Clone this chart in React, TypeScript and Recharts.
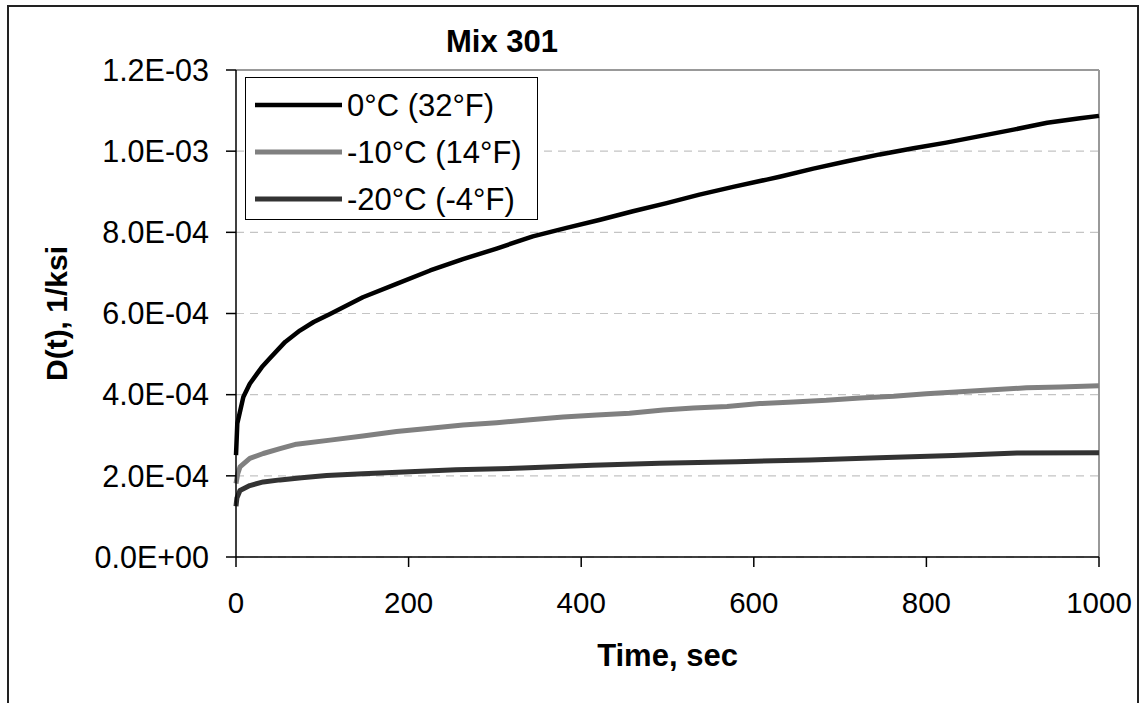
import React from 'react';
import { LineChart, Line, XAxis, YAxis, CartesianGrid, ReferenceLine, Legend, Label } from 'recharts';

const timeTicks = [0, 200, 400, 600, 800, 1000];
const complianceTicks = [0, 2e-4, 4e-4, 6e-4, 8e-4, 10e-4, 12e-4];

// 0°C (32°F)
const time0C = [0, 1.5, 8.5, 16, 30, 39, 57, 74, 90, 109, 147, 186, 225, 263, 302, 344, 383, 422, 460, 499, 537, 576, 615, 630, 669, 708, 746, 785, 823, 862, 901, 940, 978, 1000];
const d0C = [2.51e-4, 3.29e-4, 3.94e-4, 4.27e-4, 4.68e-4, 4.89e-4, 5.30e-4, 5.58e-4, 5.79e-4, 5.99e-4, 6.40e-4, 6.73e-4, 7.06e-4, 7.34e-4, 7.60e-4, 7.90e-4, 8.11e-4, 8.31e-4, 8.52e-4, 8.72e-4, 8.93e-4, 9.12e-4, 9.30e-4, 9.37e-4, 9.57e-4, 9.75e-4, 9.92e-4, 10.07e-4, 10.21e-4, 10.37e-4, 10.53e-4, 10.70e-4, 10.81e-4, 10.87e-4];

// -10°C (14°F)
const timeM10C = [0, 2, 4.6, 16, 31.6, 51, 70, 109, 147, 186, 225, 263, 302, 341, 379, 418, 456, 495, 530, 569, 607, 646, 684, 723, 762, 800, 839, 877, 916, 955, 1000];
const dM10C = [1.81e-4, 2.05e-4, 2.22e-4, 2.43e-4, 2.55e-4, 2.67e-4, 2.78e-4, 2.88e-4, 2.98e-4, 3.09e-4, 3.17e-4, 3.25e-4, 3.31e-4, 3.38e-4, 3.45e-4, 3.50e-4, 3.54e-4, 3.62e-4, 3.67e-4, 3.71e-4, 3.78e-4, 3.82e-4, 3.86e-4, 3.92e-4, 3.96e-4, 4.02e-4, 4.07e-4, 4.12e-4, 4.17e-4, 4.19e-4, 4.22e-4];

// -20°C (-4°F)
const timeM20C = [0, 1, 4.6, 16, 31.6, 51, 76, 105, 147, 201, 255, 332, 413, 491, 580, 665, 754, 831, 905, 1000];
const dM20C = [1.25e-4, 1.45e-4, 1.64e-4, 1.76e-4, 1.85e-4, 1.90e-4, 1.95e-4, 2.01e-4, 2.05e-4, 2.10e-4, 2.15e-4, 2.19e-4, 2.26e-4, 2.31e-4, 2.35e-4, 2.39e-4, 2.45e-4, 2.50e-4, 2.56e-4, 2.57e-4];

const toRows = (ts: number[], ds: number[]) => ts.map((t, i) => ({ t, v: ds[i] }));

const series = [
  { name: '0°C (32°F)', color: '#000000', width: 4.5, data: toRows(time0C, d0C) },
  { name: '-10°C (14°F)', color: '#808080', width: 5, data: toRows(timeM10C, dM10C) },
  { name: '-20°C (-4°F)', color: '#333333', width: 5, data: toRows(timeM20C, dM20C) },
];

const FONT = '"Liberation Sans", Arial, sans-serif';

function fmtSci(v: number): string {
  if (v === 0) return '0.0E+00';
  const e = Math.floor(Math.log10(Math.abs(v)) + 1e-9);
  const m = v / Math.pow(10, e);
  const sign = e < 0 ? '-' : '+';
  return m.toFixed(1) + 'E' + sign + String(Math.abs(e)).padStart(2, '0');
}

const LegendBox = () => (
  <svg width={293} height={143} style={{ display: 'block' }}>
    <rect x={0.5} y={0.5} width={292} height={142} fill="#fff" stroke="#000" strokeWidth={1} />
    {series.map((s, i) => (
      <g key={s.name}>
        <line x1={10} x2={97} y1={28 + i * 47} y2={28 + i * 47} stroke={s.color} strokeWidth={s.width} />
        <text x={102} y={28 + i * 47} dominantBaseline="central" fontFamily={FONT} fontSize={31} fill="#000">
          {s.name}
        </text>
      </g>
    ))}
  </svg>
);

export default function App() {
  return (
    <div style={{ position: 'fixed', left: 0, top: 0, width: 1147, height: 703, overflow: 'hidden', background: '#fff', fontFamily: FONT }}>
      <div style={{ position: 'absolute', left: 7, top: 5, width: 1132, height: 760, border: '2px solid #222', boxSizing: 'border-box' }} />
      <div style={{ position: 'absolute', left: 352, top: 26, width: 300, textAlign: 'center', fontSize: 31, lineHeight: '31px', fontWeight: 'bold', color: '#000', fontFamily: FONT }}>
        Mix 301
      </div>
      <div style={{ position: 'absolute', left: 0, top: 0 }}>
        <LineChart width={1147} height={703} margin={{ top: 70, right: 48, bottom: 86, left: 106 }}>
          <CartesianGrid vertical={false} stroke="#c4c4c4" strokeDasharray="8 6" strokeWidth={1.2} />
          <XAxis
            type="number"
            dataKey="t"
            domain={[0, 1000]}
            ticks={timeTicks}
            interval={0}
            height={60}
            tickSize={10}
            tickMargin={25}
            axisLine={{ stroke: '#000', strokeWidth: 1.5 }}
            tickLine={{ stroke: '#000', strokeWidth: 1.5 }}
            tick={{ fill: '#000', fontSize: 29.5, fontFamily: FONT }}
          >
            <Label
              content={(p: any) => {
                const vb = p.viewBox || { x: 236, y: 557, width: 863, height: 60 };
                return (
                  <text x={vb.x + vb.width / 2} y={vb.y + 109} textAnchor="middle" fontFamily={FONT} fontSize={31} fontWeight="bold" fill="#000">
                    Time, sec
                  </text>
                );
              }}
            />
          </XAxis>
          <YAxis
            type="number"
            domain={[0, 0.0012]}
            ticks={complianceTicks}
            interval={0}
            width={130}
            tickFormatter={fmtSci}
            tickSize={10}
            tickMargin={17}
            axisLine={{ stroke: '#000', strokeWidth: 1.5 }}
            tickLine={{ stroke: '#000', strokeWidth: 1.5 }}
            tick={{ fill: '#000', fontSize: 30.5, fontFamily: FONT }}
          >
            <Label
              content={(p: any) => {
                const vb = p.viewBox || { x: 106, y: 70, width: 130, height: 487 };
                const x = vb.x - 39;
                const y = vb.y + vb.height / 2;
                return (
                  <text x={x} y={y} transform={`rotate(-90, ${x}, ${y})`} textAnchor="middle" fontFamily={FONT} fontSize={30} fontWeight="bold" fill="#000">
                    D(t), 1/ksi
                  </text>
                );
              }}
            />
          </YAxis>
          <ReferenceLine y={0.0012} stroke="#999" strokeWidth={2} />
          <ReferenceLine x={1000} stroke="#999" strokeWidth={2} />
          {series.map((s) => (
            <Line
              key={s.name}
              data={s.data}
              dataKey="v"
              name={s.name}
              type="linear"
              stroke={s.color}
              strokeWidth={s.width}
              dot={false}
              activeDot={false}
              strokeLinejoin="round"
              isAnimationActive={false}
            />
          ))}
          <Legend
            layout="vertical"
            align="center"
            verticalAlign="middle"
            content={() => <LegendBox />}
            wrapperStyle={{ position: 'absolute', left: 245, top: 77, width: 293, height: 143 }}
          />
        </LineChart>
      </div>
    </div>
  );
}
